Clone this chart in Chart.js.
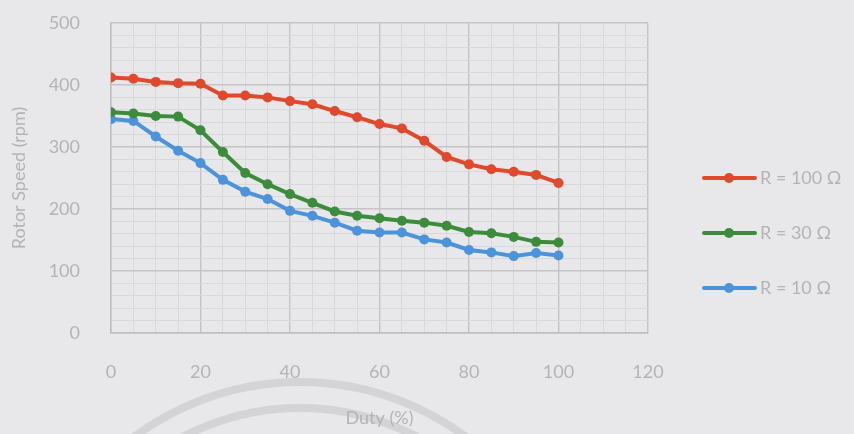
<!DOCTYPE html>
<html>
<head>
<meta charset="utf-8">
<script src="https://cdn.jsdelivr.net/npm/chart.js@4/dist/chart.umd.min.js"></script>
<style>
  html, body { margin: 0; padding: 0; background: #e8e8ea; }
  #wrap { width: 854px; height: 434px; }
</style>
</head>
<body>
<div id="wrap"><canvas id="speedChart" width="854" height="434"></canvas></div>
<script>
// duty cycle (%) at each measurement
const duty = [0, 5, 10, 15, 20, 25, 30, 35, 40, 45, 50, 55, 60, 65, 70, 75, 80, 85, 90, 95, 100];

// rotor speed (rpm) for each load resistance
const speedR100 = [412, 410, 405, 403, 402, 383, 383, 380, 374, 369, 358, 348, 337, 330, 310, 284, 272, 264, 260, 255, 242];
const speedR30  = [356, 354, 350, 349, 327, 292, 258, 240, 224, 210, 196, 189, 185, 181, 178, 173, 163, 161, 155, 147, 146];
const speedR10  = [345, 342, 317, 294, 274, 247, 228, 216, 197, 189, 178, 165, 162, 162, 151, 146, 134, 130, 124, 129, 125];

const seriesLabels = ['R = 100 Ω', 'R = 30 Ω', 'R = 10 Ω'];
const seriesColors = ['#e0492c', '#3b8d3b', '#4b94db'];

const textColor = '#b4b4b7';
const fontFamily = 'Lato, "Open Sans", sans-serif';
const labelFont = { family: fontFamily, size: 18 };

function toPoints(values) {
    return values.map((v, i) => ({ x: duty[i], y: v }));
}

// faint rings printed behind the axis title
const backdropRings = {
    id: 'backdropRings',
    beforeDraw(chart) {
        const c = chart.ctx;
        c.save();
        c.strokeStyle = 'rgba(165,165,170,0.3)';
        c.lineWidth = 8;
        [278, 252].forEach(r => {
            c.beginPath();
            c.arc(300, 660, r, Math.PI, 2 * Math.PI);
            c.stroke();
        });
        c.restore();
    }
};

// legend drawn as line + marker, stacked on the right
const sideLegend = {
    id: 'sideLegend',
    afterDraw(chart) {
        const c = chart.ctx;
        const rows = [178, 233, 288];
        c.save();
        chart.data.datasets.forEach((ds, i) => {
            const y = rows[i];
            c.strokeStyle = ds.borderColor;
            c.lineWidth = 4;
            c.lineCap = 'round';
            c.beginPath();
            c.moveTo(704, y);
            c.lineTo(755, y);
            c.stroke();
            c.fillStyle = ds.borderColor;
            c.beginPath();
            c.arc(729, y, 5, 0, 2 * Math.PI);
            c.fill();
            c.fillStyle = textColor;
            c.font = '18px ' + fontFamily;
            c.textBaseline = 'middle';
            c.fillText(ds.label, 760, y);
        });
        c.restore();
    }
};

const ctx = document.getElementById('speedChart').getContext('2d');

new Chart(ctx, {
    type: 'line',
    data: {
        datasets: [speedR100, speedR30, speedR10].map((vals, i) => ({
            label: seriesLabels[i],
            data: toPoints(vals),
            borderColor: seriesColors[i],
            backgroundColor: seriesColors[i],
            borderWidth: 4,
            pointRadius: 5,
            pointBorderWidth: 0,
            tension: 0
        }))
    },
    options: {
        responsive: false,
        animation: false,
        layout: { padding: { left: 0, right: 206, top: 23, bottom: 0 } },
        plugins: {
            legend: { display: false },
            tooltip: { enabled: false }
        },
        scales: {
            x: {
                type: 'linear',
                min: 0,
                max: 120,
                afterFit(scale) { scale.height = 101; },
                ticks: {
                    stepSize: 5,
                    autoSkip: false,
                    maxRotation: 0,
                    minRotation: 0,
                    padding: 28,
                    color: textColor,
                    font: labelFont,
                    callback: v => (v % 20 === 0 ? v : '')
                },
                grid: {
                    drawTicks: false,
                    color: c => (c.tick && c.tick.value % 20 === 0 ? '#c4c4c7' : '#d9d9dc'),
                    lineWidth: c => (c.tick && c.tick.value % 20 === 0 ? 1.4 : 1)
                },
                border: { color: '#bdbdc0', width: 1.5 },
                title: {
                    display: true,
                    text: 'Duty (%)',
                    color: textColor,
                    font: labelFont,
                    padding: { top: 4, bottom: 5 }
                }
            },
            y: {
                min: 0,
                max: 500,
                afterFit(scale) { scale.width = 111; },
                ticks: {
                    stepSize: 20,
                    autoSkip: false,
                    padding: 0,
                    color: textColor,
                    font: labelFont,
                    callback: v => (v % 100 === 0 ? v : '')
                },
                grid: {
                    drawTicks: true,
                    tickLength: 31,
                    tickColor: 'rgba(0,0,0,0)',
                    color: c => (c.tick && c.tick.value % 100 === 0 ? '#c4c4c7' : '#d9d9dc'),
                    lineWidth: c => (c.tick && c.tick.value % 100 === 0 ? 1.4 : 1)
                },
                border: { color: '#bdbdc0', width: 1.5 },
                title: {
                    display: true,
                    text: 'Rotor Speed (rpm)',
                    color: textColor,
                    font: labelFont,
                    padding: { top: 8, bottom: 0 }
                }
            }
        }
    },
    plugins: [backdropRings, sideLegend]
});
</script>
</body>
</html>
